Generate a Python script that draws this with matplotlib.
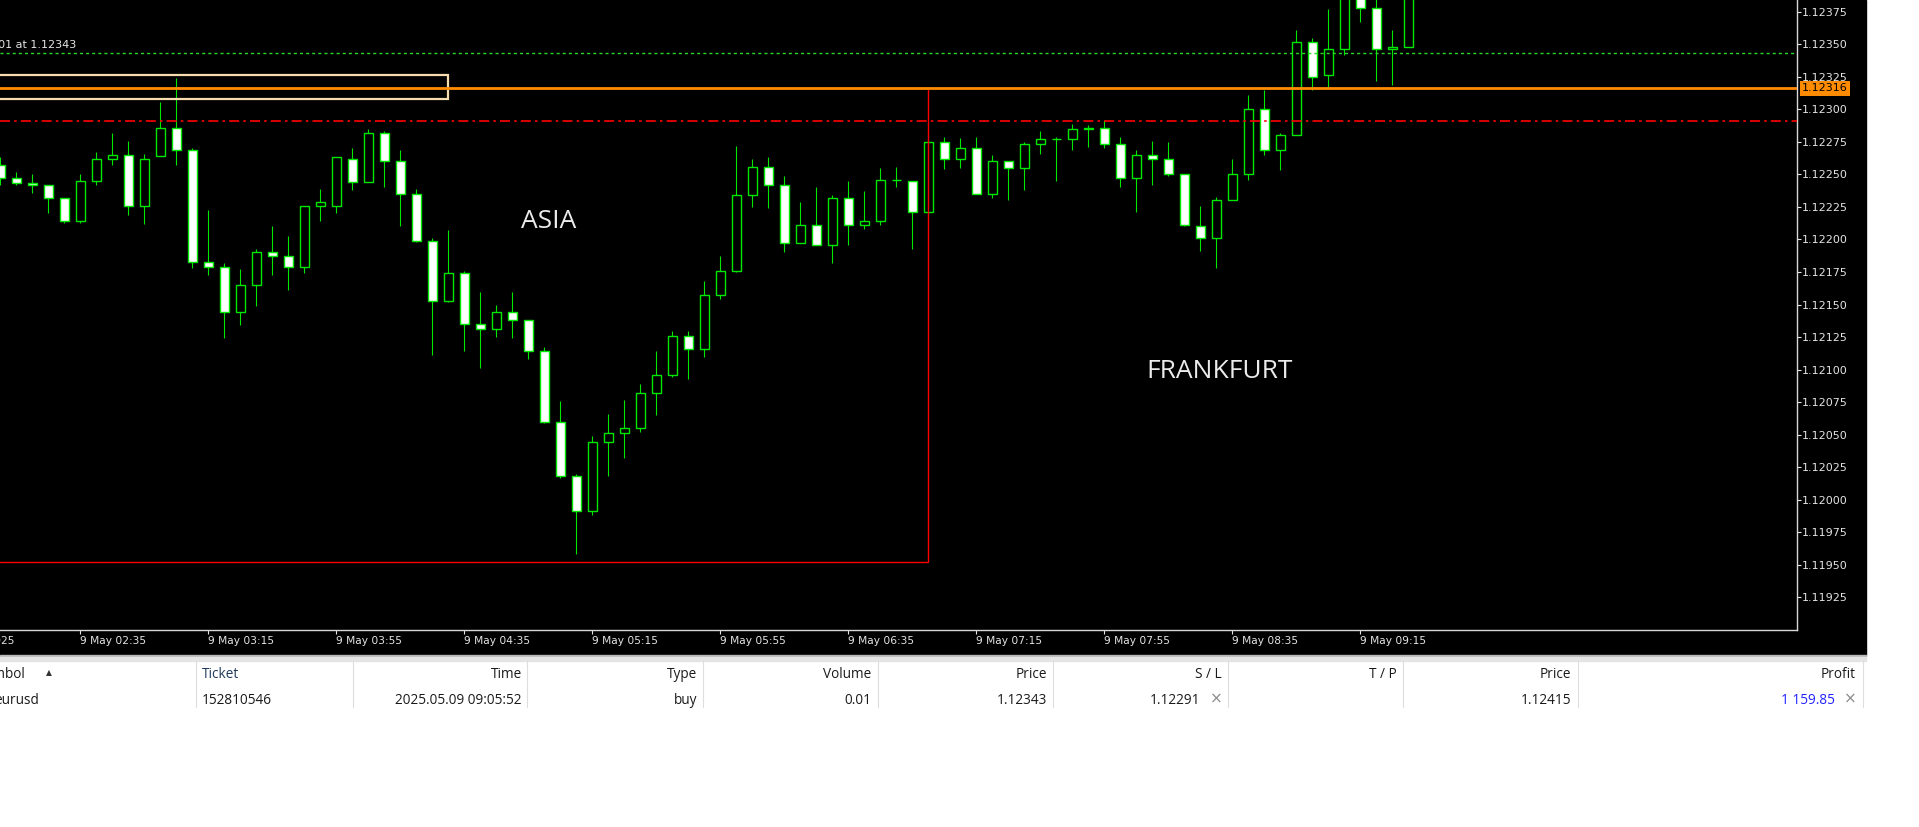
import pandas as pd
import matplotlib
matplotlib.use("Agg")
import matplotlib.pyplot as plt
from matplotlib.patches import Rectangle

# EURUSD M5 candles, 9 May 2025 (first visible bar 02:10)
start_time = "2025-05-09 02:10"
opens = [1.12257, 1.12247, 1.12243, 1.12242, 1.12232, 1.12214, 1.12245, 1.12262, 1.12265, 1.12226,
         1.12264, 1.12286, 1.12269, 1.12183, 1.12179, 1.12144, 1.12165, 1.12190, 1.12187, 1.12179,
         1.12226, 1.12226, 1.12262, 1.12244, 1.12282, 1.12260, 1.12235, 1.12199, 1.12153, 1.12174,
         1.12135, 1.12131, 1.12144, 1.12138, 1.12114, 1.12060, 1.12018, 1.11991, 1.12044, 1.12051,
         1.12055, 1.12082, 1.12096, 1.12126, 1.12116, 1.12157, 1.12176, 1.12234, 1.12256, 1.12242,
         1.12197, 1.12211, 1.12196, 1.12232, 1.12211, 1.12214, 1.12246, 1.12245, 1.12221, 1.12275,
         1.12262, 1.12270, 1.12235, 1.12260, 1.12255, 1.12273, 1.12277, 1.12277, 1.12285, 1.12286,
         1.12273, 1.12247, 1.12265, 1.12262, 1.12250, 1.12210, 1.12201, 1.12230, 1.12250, 1.12300,
         1.12269, 1.12280, 1.12352, 1.12326, 1.12346, 1.12405, 1.12378, 1.12346, 1.12348]
highs = [1.12263, 1.12252, 1.12250, 1.12242, 1.12232, 1.12250, 1.12267, 1.12282, 1.12276, 1.12266,
         1.12306, 1.12324, 1.12270, 1.12223, 1.12182, 1.12177, 1.12193, 1.12210, 1.12203, 1.12226,
         1.12239, 1.12263, 1.12270, 1.12285, 1.12283, 1.12269, 1.12239, 1.12201, 1.12207, 1.12176,
         1.12160, 1.12150, 1.12160, 1.12138, 1.12117, 1.12076, 1.12020, 1.12049, 1.12066, 1.12077,
         1.12089, 1.12114, 1.12130, 1.12130, 1.12168, 1.12187, 1.12272, 1.12262, 1.12263, 1.12249,
         1.12229, 1.12240, 1.12234, 1.12245, 1.12237, 1.12255, 1.12256, 1.12245, 1.12275, 1.12279,
         1.12278, 1.12279, 1.12265, 1.12260, 1.12275, 1.12283, 1.12279, 1.12289, 1.12288, 1.12292,
         1.12279, 1.12269, 1.12276, 1.12275, 1.12250, 1.12226, 1.12233, 1.12262, 1.12311, 1.12315,
         1.12282, 1.12361, 1.12355, 1.12377, 1.12410, 1.12412, 1.12390, 1.12361, 1.12420]
lows = [1.12242, 1.12242, 1.12236, 1.12220, 1.12213, 1.12213, 1.12242, 1.12257, 1.12219, 1.12212,
        1.12264, 1.12257, 1.12178, 1.12173, 1.12124, 1.12134, 1.12149, 1.12173, 1.12161, 1.12174,
        1.12214, 1.12220, 1.12238, 1.12244, 1.12240, 1.12210, 1.12198, 1.12111, 1.12152, 1.12114,
        1.12101, 1.12125, 1.12124, 1.12108, 1.12059, 1.12017, 1.11958, 1.11988, 1.12018, 1.12032,
        1.12052, 1.12065, 1.12094, 1.12093, 1.12110, 1.12154, 1.12175, 1.12225, 1.12224, 1.12190,
        1.12197, 1.12196, 1.12182, 1.12196, 1.12208, 1.12211, 1.12240, 1.12193, 1.12221, 1.12254,
        1.12255, 1.12235, 1.12232, 1.12230, 1.12238, 1.12266, 1.12245, 1.12269, 1.12271, 1.12270,
        1.12240, 1.12221, 1.12242, 1.12249, 1.12210, 1.12191, 1.12178, 1.12230, 1.12246, 1.12265,
        1.12253, 1.12280, 1.12315, 1.12317, 1.12342, 1.12367, 1.12322, 1.12319, 1.12348]
closes = [1.12247, 1.12243, 1.12242, 1.12232, 1.12214, 1.12245, 1.12262, 1.12265, 1.12226, 1.12262,
          1.12286, 1.12269, 1.12183, 1.12179, 1.12144, 1.12165, 1.12190, 1.12187, 1.12179, 1.12226,
          1.12229, 1.12263, 1.12244, 1.12282, 1.12260, 1.12235, 1.12199, 1.12153, 1.12174, 1.12135,
          1.12131, 1.12144, 1.12138, 1.12114, 1.12060, 1.12018, 1.11991, 1.12044, 1.12051, 1.12055,
          1.12082, 1.12096, 1.12126, 1.12116, 1.12157, 1.12176, 1.12234, 1.12256, 1.12242, 1.12197,
          1.12211, 1.12196, 1.12232, 1.12211, 1.12214, 1.12246, 1.12246, 1.12221, 1.12275, 1.12262,
          1.12270, 1.12235, 1.12260, 1.12255, 1.12273, 1.12277, 1.12277, 1.12285, 1.12286, 1.12273,
          1.12247, 1.12265, 1.12262, 1.12250, 1.12211, 1.12201, 1.12230, 1.12250, 1.12300, 1.12269,
          1.12280, 1.12352, 1.12325, 1.12346, 1.12405, 1.12378, 1.12346, 1.12348, 1.12415]

time_labels = ["02:35", "03:15", "03:55", "04:35", "05:15", "05:55",
               "06:35", "07:15", "07:55", "08:35", "09:15"]
price_ticks = [1.11925, 1.11950, 1.11975, 1.12000, 1.12025, 1.12050, 1.12075, 1.12100,
               1.12125, 1.12150, 1.12175, 1.12200, 1.12225, 1.12250, 1.12275, 1.12300,
               1.12325, 1.12350, 1.12375]

open_price = 1.12343
stop_loss = 1.12291
level_price = 1.12316
zone_top, zone_bottom = 1.12326, 1.12308
asia_high, asia_low = 1.12316, 1.11952
asia_end = "07:00"
zone_end = "04:30"

headers = ["Symbol", "Ticket", "Time", "Type", "Volume", "Price", "S / L", "T / P", "Price", "Profit"]
row = ["eurusd", "152810546", "2025.05.09 09:05:52", "buy", "0.01", "1.12343", "1.12291", "", "1.12415", "1 159.85"]

W, H = 1919, 827
green = "#00e800"

fig = plt.figure(figsize=(W / 100, H / 100), dpi=100)
fig.patch.set_facecolor("white")


def fx(x):
    return x / W


def fy(y):
    return 1 - y / H


# black chart window
fig.add_artist(Rectangle((0, fy(655)), fx(1866), 655 / H, transform=fig.transFigure,
                         color="black", zorder=0))

ax = fig.add_axes([0, fy(630), fx(1797), 630 / H])
ax.set_facecolor("black")

times = pd.date_range(start_time, periods=len(opens), freq="5min").strftime("%H:%M").tolist()
xs = list(range(len(opens)))

# candles
ax.vlines(xs, lows, highs, color=green, linewidth=0.8, zorder=2)
for i in xs:
    o, c = opens[i], closes[i]
    fill = "white" if c < o else "black"
    ax.bar(i, abs(c - o), bottom=min(o, c), width=0.6, color=fill,
           edgecolor=green, linewidth=1.0, zorder=3)

# levels
ax.axhline(open_price, color="#28d828", linestyle=(0, (2.2, 2.2)), linewidth=1.0, zorder=4)
ax.axhline(stop_loss, color="#ff0000", linestyle=(0, (6, 2.5, 1.5, 2.5)), linewidth=1.2, zorder=4)
ax.axhline(level_price, color="#ff8c00", linewidth=2.0, zorder=5)

i_zone = times.index(zone_end)
ax.add_patch(Rectangle((-20, zone_bottom), i_zone + 20, zone_top - zone_bottom, fill=False,
                       edgecolor="#f8dcb0", linewidth=1.6, zorder=4))
i_asia = times.index(asia_end)
ax.add_patch(Rectangle((-20, asia_low), i_asia + 20, asia_high - asia_low, fill=False,
                       edgecolor="#ff0000", linewidth=1.0, zorder=4))

ax.text(34.25, 1.122086, "ASIA", ha="center", va="baseline", fontsize=19,
        family="Open Sans", color="#ececec", zorder=6)
ax.text(76.2, 1.120933, "FRANKFURT", ha="center", va="baseline", fontsize=19,
        family="Open Sans", color="#ececec", zorder=6)
ax.text(4.73, 1.123494, "#152810546 buy 0.01 at 1.12343", ha="right", va="center",
        fontsize=8, color="#e6e6e6", zorder=6)

# axes limits so that one bar = 16 px
x0 = -0.3 / 16
ax.set_xlim(x0, x0 + 1797 / 16)
ax.set_ylim(1.118999, 1.123840)

for s in ["left", "top"]:
    ax.spines[s].set_visible(False)
for s in ["right", "bottom"]:
    ax.spines[s].set_color("#d8d8d8")
    ax.spines[s].set_linewidth(1.0)

ax.yaxis.tick_right()
ax.set_yticks(price_ticks)
ax.set_yticklabels([f"{p:.5f}" for p in price_ticks])
ax.tick_params(axis="y", colors="#e4e4e4", labelsize=8, length=3, width=0.8, pad=0.8)

xt = [times.index(t) for t in time_labels]
ax.set_xticks(xt)
ax.set_xticklabels(["9 May " + t for t in time_labels])
ax.tick_params(axis="x", colors="#e4e4e4", labelsize=7.7, length=3, width=0.8, pad=1.5)
for lab in ax.get_xticklabels():
    lab.set_horizontalalignment("left")
ax.text(-3, -11 / 630, "9 May 2025", transform=ax.get_xaxis_transform(), ha="left",
        va="center", fontsize=7.7, color="#e4e4e4", clip_on=False)

ax.text(1.0028, level_price, f"{level_price:.5f}", transform=ax.get_yaxis_transform(),
        ha="left", va="center", fontsize=8, color="black", clip_on=False, zorder=10,
        bbox=dict(boxstyle="square,pad=0.22", fc="#ff8c00", ec="none"))

# trade table below the chart
fig.add_artist(Rectangle((0, fy(657)), fx(1866), 2 / H, transform=fig.transFigure,
                         color="#b8b8b8", zorder=1))
fig.add_artist(Rectangle((0, fy(661)), fx(1866), 4 / H, transform=fig.transFigure,
                         color="#e4e4e4", zorder=1))
for sx in [196, 352.5, 527, 702.5, 877.5, 1052.5, 1227.5, 1402.5, 1577.5, 1862.5]:
    fig.add_artist(plt.Line2D([fx(sx), fx(sx)], [fy(661), fy(707)], color="#dedede",
                              linewidth=0.8, transform=fig.transFigure))

col_x = [24.5, 202, 521.7, 697, 871.4, 1047, 1222, 1397, 1571.6, 1856]
col_ha = ["right", "left", "right", "right", "right", "right", "right", "right", "right", "right"]
tfont = dict(family="Open Sans", fontsize=9.8)
for h, x, ha in zip(headers, col_x, col_ha):
    fig.text(fx(x), fy(674), h, ha=ha, va="center", color="#203a5c" if h == "Ticket" else "#1a1a1a", **tfont)
fig.text(fx(48.5), fy(673), "\u25b2", ha="center", va="center", fontsize=5.5, color="#333333")

row_x = [39, 202, 521.7, 697, 871.4, 1047, 1200, 1397, 1571.6, 1835]
for v, x, ha in zip(row, row_x, col_ha):
    c = "#2424ff" if v == row[-1] else "#1a1a1a"
    fig.text(fx(x), fy(700), v, ha=ha, va="center", color=c, **tfont)
for x in [1216, 1850]:
    fig.text(fx(x), fy(699), "\u00d7", ha="center", va="center", fontsize=11,
             color="#8c8c8c", family="DejaVu Sans")

fig.savefig("out.png", dpi=100, facecolor=fig.get_facecolor())
